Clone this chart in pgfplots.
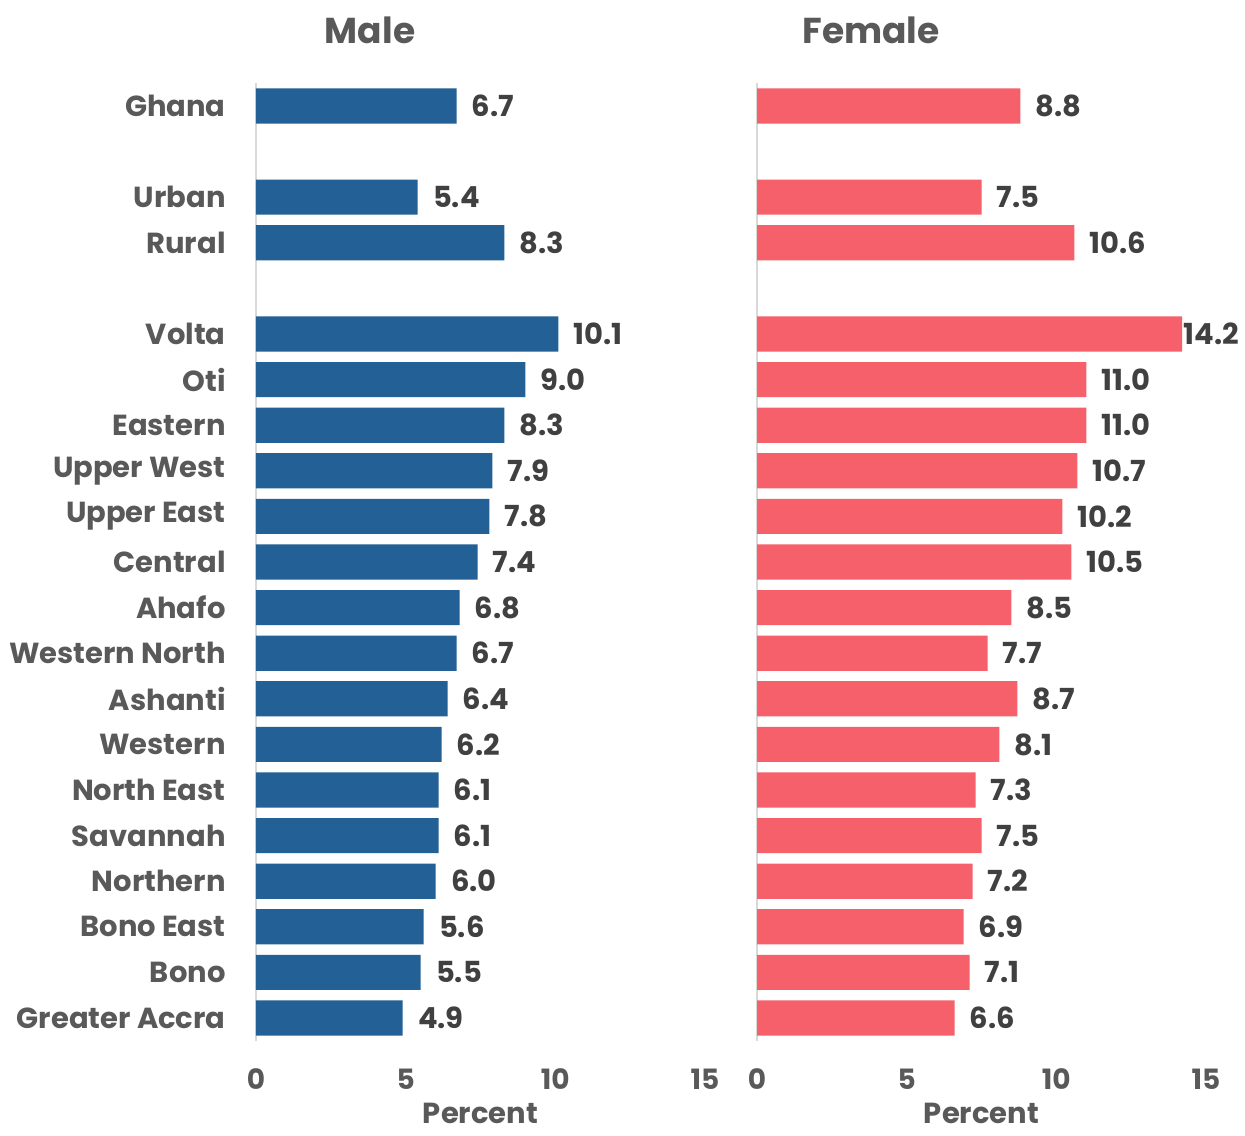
\documentclass[border=0pt]{standalone}
\usepackage{fontspec}
\setmainfont{Poppins}
\usepackage{pgfplots}
\usepackage{pgfplotstable}
\pgfplotsset{compat=1.18}
\definecolor{maleblue}{HTML}{226095}
\definecolor{femalered}{HTML}{F5606A}
\definecolor{txtgray}{HTML}{595959}
\definecolor{lblgray}{HTML}{404040}
\definecolor{axgray}{HTML}{D9D9D9}

% pos: 20 = Ghana (top), 0 = Greater Accra (bottom); dx = label shift in pt
\pgfplotstableread{
pos male female dx
20 6.7 8.8 0
18 5.4 7.5 0
17 8.3 10.6 0
15 10.1 14.2 -7
14 9.0 11.0 0
13 8.3 11.0 0
12 7.9 10.7 0
11 7.8 10.2 0
10 7.4 10.5 0
9 6.8 8.5 0
8 6.7 7.7 0
7 6.4 8.7 0
6 6.2 8.1 0
5 6.1 7.3 0
4 6.1 7.5 0
3 6.0 7.2 0
2 5.6 6.9 0
1 5.5 7.1 0
0 4.9 6.6 0
}\ghdata

\pgfplotsset{
  ghbar/.style={
    xbar,
    width=224.5pt, height=478.8pt, scale only axis,
    xmin=0, xmax=15, ymin=-0.5, ymax=20.5,
    bar width=0.77,
    xtick={0,5,10,15},
    ytick={0,...,15,17,18,20},
    major tick length=0,
    axis lines*=left,
    x axis line style={draw=none},
    y axis line style={draw=axgray, line width=0.8pt},
    xticklabel style={anchor=center, yshift=-19pt, text=txtgray,
      font=\bfseries\fontsize{14}{16}\selectfont},
    yticklabel style={anchor=east, inner sep=0pt, xshift=-15pt, text=txtgray,
      font=\bfseries\fontsize{14.5}{16}\selectfont},
    xlabel={Percent},
    xlabel style={at={(0.5,0)}, anchor=center, yshift=-36.5pt, text=txtgray,
      font=\bfseries\fontsize{14.5}{16}\selectfont},
    title style={at={(0.254,1)}, anchor=center, yshift=20.6pt, text=txtgray,
      font=\bfseries\fontsize{18}{21}\selectfont},
    nodes near coords,
    nodes near coords style={/pgf/number format/fixed,
      /pgf/number format/fixed zerofill, /pgf/number format/precision=1,
      /pgf/number format/assume math mode=true,
      anchor=west, inner sep=0pt, text=lblgray,
      font=\bfseries\fontsize{14.5}{16}\selectfont},
    /pgf/number format/assume math mode=true,
  }
}

\begin{document}
\begin{tikzpicture}
\useasboundingbox (-128pt,-47.1pt) rectangle (494.5pt,520.4pt);

\begin{axis}[ghbar, at={(0,0)}, title={Male},
  yticklabels={Greater Accra, Bono, Bono East, Northern, Savannah, North East,
    Western, Ashanti, Western North, Ahafo, Central, Upper East, Upper West,
    Eastern, Oti, Volta, Rural, Urban, Ghana}]
  \addplot[fill=maleblue, draw=none, nodes near coords style={xshift=7.5pt}]
    table[x=male, y=pos] {\ghdata};
\end{axis}

\begin{axis}[ghbar, at={(250.5pt,0)}, title={Female}, yticklabels={}]
  \addplot[fill=femalered, draw=none,
    visualization depends on={\thisrow{dx} \as \dx},
    nodes near coords style={xshift=7.5pt+\dx pt}]
    table[x=female, y=pos] {\ghdata};
\end{axis}
\end{tikzpicture}
\end{document}
